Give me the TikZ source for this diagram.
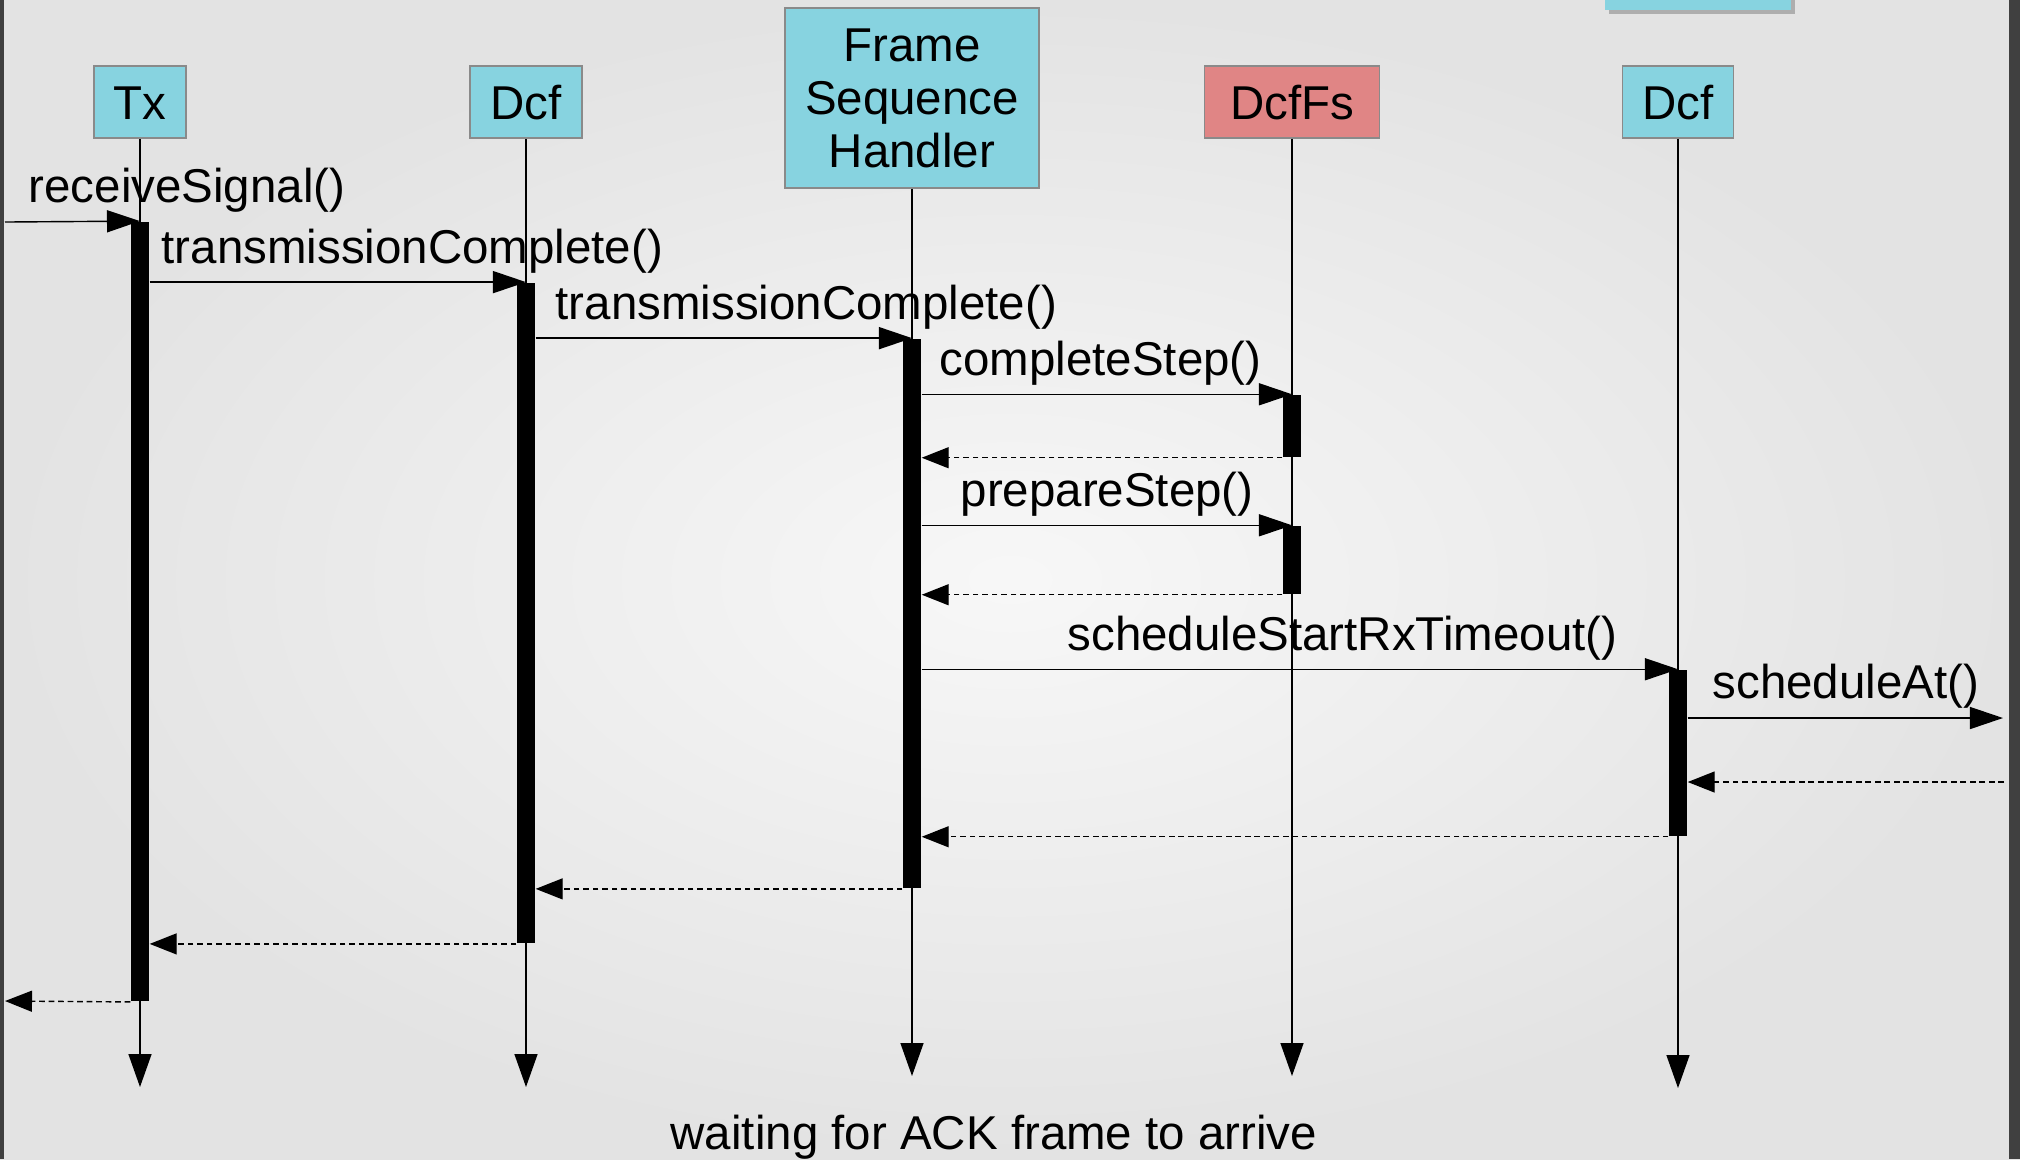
\documentclass[tikz,border=0pt]{standalone}
\usepackage{fontspec}
\setmainfont{Liberation Sans}
\usetikzlibrary{arrows.meta}
\definecolor{boxcyan}{HTML}{87D3E0}
\definecolor{boxred}{HTML}{E08585}
\definecolor{boxedge}{HTML}{8A8A8A}
\definecolor{frameedge}{HTML}{404040}
\begin{document}
\begin{tikzpicture}[x=0.01cm,y=-0.01cm,
  font=\fontsize{13.5pt}{15.1pt}\selectfont,
  objbox/.style={draw=boxedge,line width=0.45pt,fill=boxcyan,inner sep=0pt,
                 minimum height=0.72cm,text height=0.34cm,text depth=0pt},
  actbar/.style={fill=black,draw=none,inner sep=0pt,minimum width=0.18cm},
  lifeline/.style={draw=black,line width=0.4pt,
                   -{Triangle[length=0.33cm,width=0.23cm]}},
  callmsg/.style={draw=black,line width=0.4pt,
                  -{Triangle[length=0.33cm,width=0.22cm]}},
  retmsg/.style={draw=black,line width=0.4pt,dash pattern=on 1.6pt off 1.1pt,
                 -{Triangle[length=0.27cm,width=0.21cm]}},
  lbl/.style={anchor=base west,inner sep=0pt}]

% background
\useasboundingbox (0,0) rectangle (2020,1159);
\shade[inner color=white!97!black,outer color=white!89!black] (0,0) rectangle (2020,1159);
\fill[frameedge] (0,0) rectangle (4,1159);
\fill[frameedge] (2009,0) rectangle (2020,1159);

% partial box at the top right
\fill[black!45,opacity=0.6] (1609,-2) rectangle (1795,14);
\fill[boxcyan] (1605,-2) rectangle (1791,10);

% lifeline heads
\node[objbox,minimum width=0.92cm] (tx) at (140,102) {Tx};
\node[objbox,minimum width=1.12cm] (dcfa) at (526,102) {Dcf};
\node[objbox,minimum width=2.54cm,minimum height=1.80cm,align=center,
      text height=,text depth=] (fsh) at (912,98) {Frame\\Sequence\\Handler};
\node[objbox,fill=boxred,minimum width=1.75cm] (dcffs) at (1292,102) {DcfFs};
\node[objbox,minimum width=1.11cm] (dcfb) at (1678,102) {Dcf};

% lifeline ends
\coordinate (txend) at (140,1087);
\coordinate (dcfaend) at (526,1087);
\coordinate (fshend) at (912,1076);
\coordinate (dcffsend) at (1292,1076);
\coordinate (dcfbend) at (1678,1088);

\draw[lifeline] (tx.south) -- (txend);
\draw[lifeline] (dcfa.south) -- (dcfaend);
\draw[lifeline] (fsh.south) -- (fshend);
\draw[lifeline] (dcffs.south) -- (dcffsend);
\draw[lifeline] (dcfb.south) -- (dcfbend);

% activation bars
\node[actbar,minimum height=7.79cm] (txbar) at (140,611.5) {};
\node[actbar,minimum height=6.60cm] (dabar) at (526,613) {};
\node[actbar,minimum height=5.49cm] (fhbar) at (912,613.5) {};
\node[actbar,minimum height=0.62cm] (ffbarA) at (1292,426) {};
\node[actbar,minimum height=0.68cm] (ffbarB) at (1292,560) {};
\node[actbar,minimum height=1.66cm] (dbbar) at (1678,753) {};

% free ends
\coordinate (inL) at (5,222);
\coordinate (outL) at (5,1001);
\coordinate (outR) at (2003,718);
\coordinate (inR) at (2004,782);

% calls
\draw[callmsg] (inL) -- (txbar.north);
\draw[callmsg] (txbar.east |- dabar.north) -- (dabar.north);
\draw[callmsg] (dabar.east |- fhbar.north) -- (fhbar.north);
\draw[callmsg] (fhbar.east |- ffbarA.north) -- (ffbarA.north);
\draw[callmsg] (fhbar.east |- ffbarB.north) -- (ffbarB.north);
\draw[callmsg] (fhbar.east |- dbbar.north) -- (dbbar.north);
\draw[callmsg] (dbbar.east |- outR) -- (outR);

% returns
\draw[retmsg] (ffbarA.south west) -- (fhbar.east |- ffbarA.south);
\draw[retmsg] (ffbarB.south west) -- (fhbar.east |- ffbarB.south);
\draw[retmsg] (inR) -- (dbbar.east |- inR);
\draw[retmsg] (dbbar.south west) -- (fhbar.east |- dbbar.south);
\draw[retmsg] (fhbar.south west) -- (dabar.east |- fhbar.south);
\draw[retmsg] (dabar.south west) -- (txbar.east |- dabar.south);
\draw[retmsg] (txbar.south west) -- (outL);

% labels
\node[lbl] (l1) at (28,202) {receiveSignal()};
\node[lbl] (l2) at (161,263) {transmissionComplete()};
\node[lbl] (l3) at (555,319) {transmissionComplete()};
\node[lbl] (l4) at (939,375) {completeStep()};
\node[lbl] (l5) at (960,506) {prepareStep()};
\node[lbl] (l6) at (1067,650) {scheduleStartRxTimeout()};
\node[lbl] (l7) at (1712,698) {scheduleAt()};
\node[lbl] (note) at (670,1149) {waiting for ACK frame to arrive};
\end{tikzpicture}
\end{document}
